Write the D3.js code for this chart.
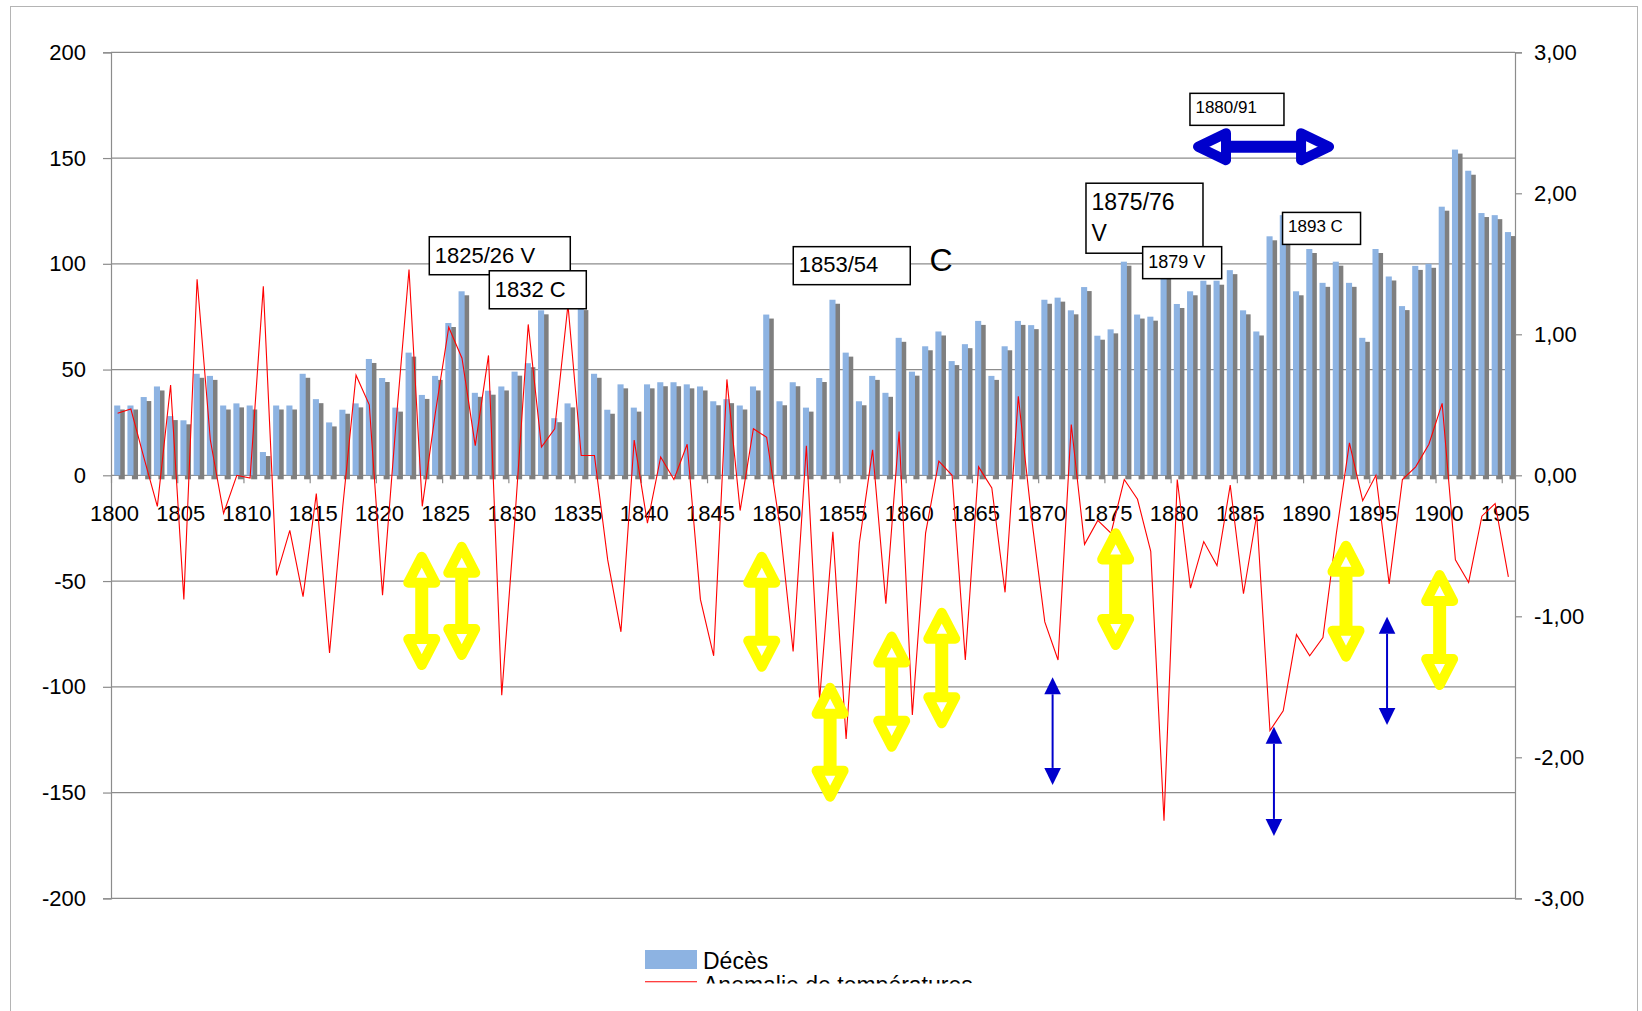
<!DOCTYPE html>
<html>
<head>
<meta charset="utf-8">
<script src="https://cdn.jsdelivr.net/npm/d3@7"></script>
<style>
	body { margin: 0; background: #fff; }
	svg { display: block; font-family: "Liberation Sans", Arial, sans-serif; }
</style>
</head>
<body>
<svg id="svg" width="1642" height="1011"></svg>
<script>
"use strict";

// data
const years = d3.range(1800, 1906);

// Décès (left axis)
const deces = [
	33, 33, 37, 42, 28, 26, 48, 47, 33, 34,
	33, 11, 33, 33, 48, 36, 25, 31, 34, 55,
	46, 32, 58, 38, 47, 72, 87, 39, 40, 42,
	49, 53, 78, 27, 34, 80, 48, 31, 43, 32,
	43, 44, 44, 43, 42, 35, 36, 33, 42, 76,
	35, 44, 32, 46, 83, 58, 35, 47, 39, 65,
	49, 61, 68, 54, 62, 73, 47, 61, 73, 71,
	83, 84, 78, 89, 66, 69, 101, 76, 75, 97,
	81, 87, 92, 92, 97, 78, 68, 113, 123, 87,
	107, 91, 101, 91, 65, 107, 94, 80, 99, 100,
	127, 154, 144, 124, 123, 115,
];

// Anomalie de températures (right axis)
const anomalie = [
	0.44, 0.47, 0.12, -0.22, 0.64, -0.88, 1.39, 0.25, -0.27, 0.0,
	-0.02, 1.34, -0.71, -0.39, -0.86, -0.13, -1.26, -0.22, 0.71, 0.5,
	-0.85, 0.35, 1.46, -0.22, 0.45, 1.05, 0.83, 0.21, 0.85, -1.56,
	-0.3, 1.07, 0.2, 0.33, 1.21, 0.14, 0.14, -0.6, -1.11, 0.25,
	-0.34, 0.13, -0.03, 0.22, -0.88, -1.28, 0.68, -0.25, 0.33, 0.27,
	-0.36, -1.25, 0.21, -1.59, -0.4, -1.87, -0.48, 0.18, -0.91, 0.31,
	-1.7, -0.41, 0.1, 0.0, -1.31, 0.06, -0.09, -0.83, 0.56, -0.3,
	-1.04, -1.31, 0.36, -0.49, -0.32, -0.41, -0.03, -0.17, -0.54, -2.45,
	-0.03, -0.8, -0.47, -0.64, -0.07, -0.84, -0.28, -1.81, -1.67, -1.13,
	-1.28, -1.15, -0.42, 0.23, -0.18, 0.0, -0.77, -0.03, 0.06, 0.22,
	0.51, -0.6, -0.76, -0.29, -0.2, -0.72,
];

const leftTicks = d3.range(-200, 201, 50);
const rightTicks = [-3, -2, -1, 0, 1, 2, 3];
const yearTicks = years.filter((y) => y % 5 === 0);

// annotation boxes: top-left corner in (year, left-axis value)
const noteText = [["1825/26 V"], ["1832 C"], ["1853/54"], ["1875/76", "V"], ["1879 V"], ["1880/91"], ["1893 C"]];
const noteYear = [1824.03, 1828.56, 1851.51, 1873.61, 1877.89, 1881.46, 1888.45];
const noteVal = [112.8, 96.7, 108.1, 138.1, 108.1, 180.6, 124.3];

// yellow double arrows: year, top value, bottom value (left axis)
const yellowYear = [1823.46, 1826.48, 1849.13, 1854.29, 1858.94, 1862.72, 1875.85, 1893.24, 1900.31];
const yellowTop = [-36.1, -31.4, -36.1, -98.1, -73.9, -62.6, -25.1, -30.9, -44.8];
const yellowBottom = [-92.1, -87.3, -92.9, -154.3, -130.7, -119.6, -82.6, -88.1, -101.5];

// thin blue double arrows
const blueYear = [1871.09, 1887.8, 1896.34];
const blueTop = [-95.5, -118.9, -66.9];
const blueBottom = [-146.4, -170.5, -118.1];

// layout
const W = 1642;
const plot = { left: 111, right: 1515, top: 52.3, bottom: 898.3 };
const barColor = "#8db3e2";
const shadowColor = "#7f7f7f";
const lineColor = "#ff0000";
const gridColor = "#8c8c8c";

const svg = d3.select("#svg");

const xl = d3.scaleLinear().domain([1800, 1906]).range([plot.left, plot.right]);
const step = xl(1801) - xl(1800);
const yL = d3.scaleLinear().domain([-200, 200]).range([plot.bottom, plot.top]);
const yR = d3.scaleLinear().domain([-3, 3]).range([plot.bottom, plot.top]);

// outer frame
svg.append("rect")
	.attr("x", 10.5)
	.attr("y", 6.5)
	.attr("width", 1627)
	.attr("height", 1100)
	.attr("fill", "#fff")
	.attr("stroke", "#b4b4b4");

// horizontal gridlines
svg.append("g")
	.selectAll("line")
	.data(leftTicks)
	.enter()
	.append("line")
	.attr("x1", plot.left)
	.attr("x2", plot.right)
	.attr("y1", (d) => yL(d))
	.attr("y2", (d) => yL(d))
	.attr("stroke", gridColor)
	.attr("stroke-width", 1.2);

// left axis
const axL = svg.append("g")
	.attr("transform", `translate(${plot.left},0)`)
	.call(d3.axisLeft(yL).tickValues(leftTicks).tickSize(8).tickPadding(17).tickFormat((d) => String(d)));

// right axis
const axR = svg.append("g")
	.attr("transform", `translate(${plot.right},0)`)
	.call(d3.axisRight(yR).tickValues(rightTicks).tickSize(7).tickPadding(12)
		.tickFormat((d) => d3.format(".2f")(d).replace(".", ",").replace("\u2212", "-")));

// category axis on the zero line
const axX = svg.append("g")
	.attr("transform", `translate(0,${yL(0)})`)
	.call(d3.axisBottom(xl).tickValues(yearTicks).tickSize(8).tickPadding(22).tickFormat((d) => String(d)));
axX.select(".domain").remove();
axX.selectAll("text").attr("dx", 3);

[axL, axR, axX].forEach((a) => {
	a.selectAll("path.domain").attr("stroke", gridColor).attr("stroke-width", 1.2);
	a.selectAll(".tick line").attr("stroke", gridColor).attr("stroke-width", 1.2);
	a.selectAll("text").attr("font-size", "22px").attr("fill", "#000")
		.attr("font-family", "'Liberation Sans', Arial, sans-serif");
});

// bars: shadow first, then blue bar
const barX = (i) => xl(years[i]) + 0.24 * step;
const barW = 0.46 * step;

svg.append("g")
	.selectAll("rect")
	.data(deces)
	.enter()
	.append("rect")
	.attr("x", (d, i) => barX(i) + 4.5)
	.attr("y", (d) => yL(d) + 4)
	.attr("width", barW)
	.attr("height", (d) => yL(0) - yL(d))
	.attr("fill", shadowColor);

svg.append("g")
	.selectAll("rect")
	.data(deces)
	.enter()
	.append("rect")
	.attr("x", (d, i) => barX(i))
	.attr("y", (d) => yL(d))
	.attr("width", barW)
	.attr("height", (d) => yL(0) - yL(d))
	.attr("fill", barColor);

// temperature anomaly line
svg.append("path")
	.datum(anomalie)
	.attr("d", d3.line()
		.x((d, i) => xl(years[i]) + step / 2)
		.y((d) => yR(d)))
	.attr("fill", "none")
	.attr("stroke", lineColor)
	.attr("stroke-width", 1.1);

// hollow double arrow, p1/p2 are the outer tips
function hollowArrow(g, p1, p2, color, headLen, halfW, sw, shaftW) {
	const dx = p2[0] - p1[0], dy = p2[1] - p1[1];
	const len = Math.hypot(dx, dy);
	const u = [dx / len, dy / len];
	const n = [-u[1], u[0]];
	const inset = sw / 2;
	const tip1 = [p1[0] + u[0] * inset, p1[1] + u[1] * inset];
	const tip2 = [p2[0] - u[0] * inset, p2[1] - u[1] * inset];
	const base1 = [tip1[0] + u[0] * headLen, tip1[1] + u[1] * headLen];
	const base2 = [tip2[0] - u[0] * headLen, tip2[1] - u[1] * headLen];

	g.append("line")
		.attr("x1", base1[0]).attr("y1", base1[1])
		.attr("x2", base2[0]).attr("y2", base2[1])
		.attr("stroke", color)
		.attr("stroke-width", shaftW);

	[[tip1, base1], [tip2, base2]].forEach(([t, b]) => {
		const pts = [t, [b[0] + n[0] * halfW, b[1] + n[1] * halfW], [b[0] - n[0] * halfW, b[1] - n[1] * halfW]];
		g.append("path")
			.attr("d", "M" + pts.join("L") + "Z")
			.attr("fill", "#fff")
			.attr("stroke", color)
			.attr("stroke-width", sw)
			.attr("stroke-linejoin", "round");
	});
}

// thin double arrow with solid heads
function thinArrow(g, p1, p2, color, headLen, halfW) {
	const dx = p2[0] - p1[0], dy = p2[1] - p1[1];
	const len = Math.hypot(dx, dy);
	const u = [dx / len, dy / len];
	const n = [-u[1], u[0]];
	g.append("line")
		.attr("x1", p1[0] + u[0] * headLen).attr("y1", p1[1] + u[1] * headLen)
		.attr("x2", p2[0] - u[0] * headLen).attr("y2", p2[1] - u[1] * headLen)
		.attr("stroke", color)
		.attr("stroke-width", 2);
	[[p1, 1], [p2, -1]].forEach(([t, s]) => {
		const b = [t[0] + s * u[0] * headLen, t[1] + s * u[1] * headLen];
		const pts = [t, [b[0] + n[0] * halfW, b[1] + n[1] * halfW], [b[0] - n[0] * halfW, b[1] - n[1] * halfW]];
		g.append("path").attr("d", "M" + pts.join("L") + "Z").attr("fill", color);
	});
}

const arrows = svg.append("g").attr("id", "arrows");

yellowYear.forEach((yr, i) => {
	hollowArrow(arrows, [xl(yr), yL(yellowTop[i])], [xl(yr), yL(yellowBottom[i])], "#ffff00", 26, 13.5, 10, 13);
});

blueYear.forEach((yr, i) => {
	thinArrow(arrows, [xl(yr), yL(blueTop[i])], [xl(yr), yL(blueBottom[i])], "#0000cc", 17, 8.3);
});

// big horizontal arrow 1880/91
hollowArrow(arrows, [xl(1881.69), yL(155.4)], [xl(1892.34), yL(155.4)], "#0000cc", 28, 13.5, 10, 12);

// annotation boxes
const noteSize = [22, 22, 22, 23, 18, 17, 17];
const noteW = [141, 97, 117, 117, 79, 94, 78];
const noteH = [38, 38, 38, 70, 32, 32, 32];

const notes = svg.append("g").attr("id", "notes");
noteText.forEach((lines, i) => {
	const x0 = xl(noteYear[i]);
	const y0 = yL(noteVal[i]);
	notes.append("rect")
		.attr("x", x0)
		.attr("y", y0)
		.attr("width", noteW[i])
		.attr("height", noteH[i])
		.attr("fill", "#fff")
		.attr("stroke", "#000")
		.attr("stroke-width", 1.5);
	lines.forEach((t, j) => {
		notes.append("text")
			.attr("x", x0 + 5.5)
			.attr("y", y0 + noteSize[i] * 1.15 + 0.5 + j * 30.7)
			.attr("font-size", noteSize[i] + "px")
			.attr("fill", "#000")
			.text(t);
	});
});

// loose "C" next to 1853/54
notes.append("text")
	.attr("x", xl(1861.8))
	.attr("y", yL(96.6))
	.attr("font-size", "32px")
	.attr("fill", "#000")
	.text("C");

// legend, cut at the bottom like the original
svg.append("clipPath")
	.attr("id", "legendClip")
	.append("rect")
	.attr("x", 0)
	.attr("y", 0)
	.attr("width", W)
	.attr("height", 983.5);

const legend = svg.append("g").attr("clip-path", "url(#legendClip)");
legend.append("rect")
	.attr("x", 645)
	.attr("y", 950)
	.attr("width", 52)
	.attr("height", 19)
	.attr("fill", barColor);
legend.append("text")
	.attr("x", 703)
	.attr("y", 968.5)
	.attr("font-size", "23px")
	.text("Décès");
legend.append("line")
	.attr("x1", 645)
	.attr("x2", 697)
	.attr("y1", 981.7)
	.attr("y2", 981.7)
	.attr("stroke", lineColor)
	.attr("stroke-width", 1.1);
legend.append("text")
	.attr("x", 703)
	.attr("y", 993)
	.attr("font-size", "23px")
	.text("Anomalie de températures");
</script>
</body>
</html>
